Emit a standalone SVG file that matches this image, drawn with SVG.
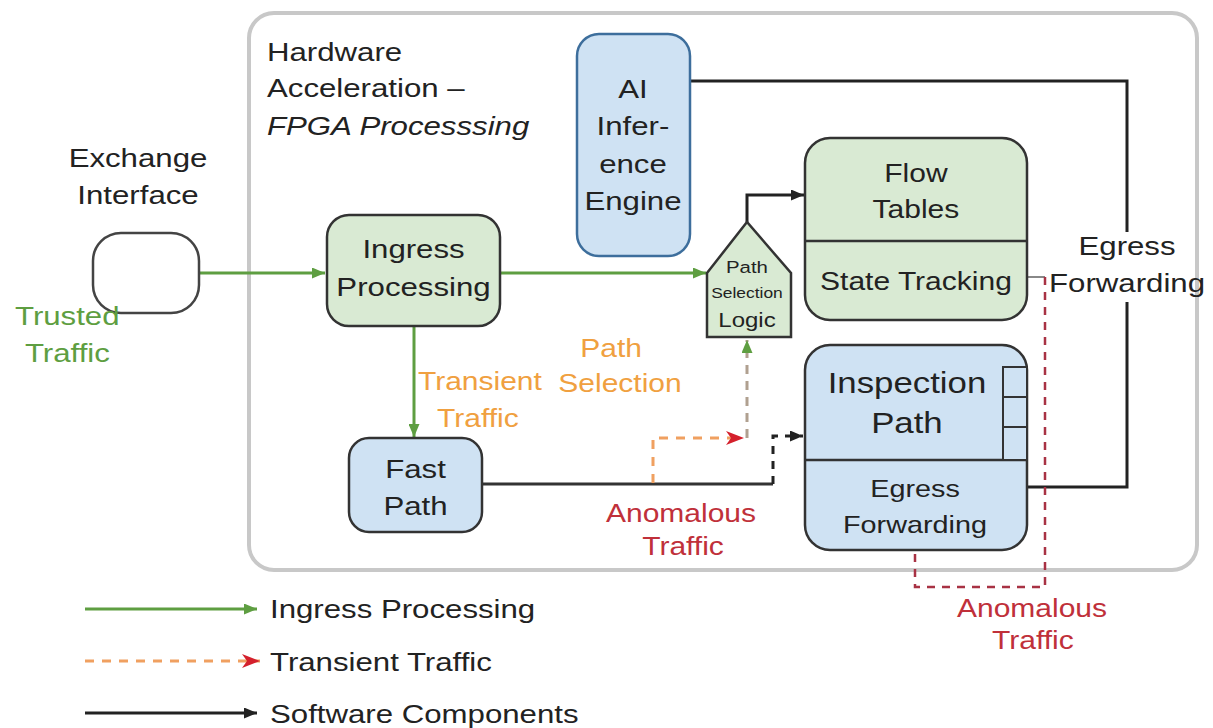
<svg xmlns="http://www.w3.org/2000/svg" width="1213" height="728" viewBox="0 0 1213 728">
<defs>
<style>
.t{font-family:"Liberation Sans",Arial,sans-serif;font-size:26px;fill:#222}
.m{text-anchor:middle}
.box{stroke:#333;stroke-width:2.5}
.g{fill:#d9ead3}
.b{fill:#cfe2f3}
.gl{stroke:#5e9e41;stroke-width:3;fill:none}
.bl{stroke:#222;stroke-width:3;fill:none}
.od{stroke:#f0a060;stroke-width:3;fill:none;stroke-dasharray:9 8}
.rd{stroke:#a83244;stroke-width:2.5;fill:none;stroke-dasharray:8 7}
</style>
<marker id="ag" viewBox="0 0 13 11" refX="13" refY="5.5" markerWidth="13" markerHeight="11" markerUnits="userSpaceOnUse" orient="auto"><path d="M0,0 L13,5.5 L0,11 z" fill="#5e9e41"/></marker>
<marker id="ab" viewBox="0 0 13 11" refX="13" refY="5.5" markerWidth="13" markerHeight="11" markerUnits="userSpaceOnUse" orient="auto"><path d="M0,0 L13,5.5 L0,11 z" fill="#222"/></marker>
<marker id="ar" viewBox="0 0 18 14" refX="18" refY="7" markerWidth="18" markerHeight="14" markerUnits="userSpaceOnUse" orient="auto"><path d="M0,0 L18,7 L0,14 L5,7 z" fill="#d4202c"/></marker>
</defs>
<rect width="1213" height="728" fill="#fff"/>
<g id="container"><rect x="249" y="13" width="948" height="557" rx="25" fill="#fff" stroke="#c8c8c8" stroke-width="4"/></g>

<g id="connectors">
<path class="gl" d="M199,273 H325" marker-end="url(#ag)"/>
<path class="gl" d="M500,273 H706" marker-end="url(#ag)"/>
<path class="gl" d="M414,326 V437" marker-end="url(#ag)"/>
<path class="bl" d="M747,222 V195 H804" marker-end="url(#ab)"/>
<path class="bl" d="M690,81 H1127 V232"/>
<path class="bl" d="M1127,302 V487 H1027"/>
<path d="M482,484 H773" stroke="#333" stroke-width="3" fill="none"/>
<path d="M773,484 V436 H803" stroke="#222" stroke-width="3" fill="none" stroke-dasharray="8 7" marker-end="url(#ab)"/>
<path class="od" d="M653,483 V438 H744" marker-end="url(#ar)"/>
<path d="M747,438 V340" stroke="#b0a090" stroke-width="3" fill="none" stroke-dasharray="9 7" marker-end="url(#ag)"/>
<path d="M1027,277 H1045" stroke="#888" stroke-width="2"/>
<path class="rd" d="M1045,277 V587 H915 V550"/>
</g>

<g id="exchange"><rect x="93" y="233" width="106" height="80" rx="28" fill="#fff" stroke="#444" stroke-width="2.5"/></g>
<g id="ingress"><rect class="box g" x="327" y="215" width="173" height="111" rx="22"/></g>
<g id="ai"><rect x="577" y="34" width="113" height="222" rx="22" fill="#cfe2f3" stroke="#3d6e9c" stroke-width="2.5"/></g>
<g id="pathsel"><polygon class="box g" points="707,273 747,222 791,273 791,337 707,337"/></g>
<g id="flow"><rect class="box g" x="805" y="138" width="222" height="182" rx="25"/><line x1="805" y1="241" x2="1027" y2="241" stroke="#333" stroke-width="2.5"/></g>
<g id="inspection"><rect class="box b" x="805" y="345" width="222" height="205" rx="25"/><line x1="805" y1="460" x2="1027" y2="460" stroke="#333" stroke-width="2.5"/><rect x="1003" y="367" width="24" height="93" fill="#cfe2f3" stroke="#333" stroke-width="2"/><line x1="1003" y1="397" x2="1027" y2="397" stroke="#333" stroke-width="2"/><line x1="1003" y1="427" x2="1027" y2="427" stroke="#333" stroke-width="2"/></g>
<g id="fast"><rect class="box b" x="349" y="438" width="133" height="94" rx="20"/></g>

<g id="legend">
<path class="gl" d="M85,609 H257" marker-end="url(#ag)"/>
<path class="od" d="M85,661 H260" marker-end="url(#ar)"/>
<path class="bl" d="M85,713 H257" marker-end="url(#ab)"/>
</g>

<g id="labels" transform="scale(1.2,1)">
<text class="t" x="222.5" y="61">Hardware</text>
<text class="t" x="222.5" y="97">Acceleration –</text>
<text class="t" x="222.5" y="135" font-style="italic">FPGA Processsing</text>
<text class="t m" x="527.5" y="98">AI</text>
<text class="t m" x="527.5" y="135">Infer-</text>
<text class="t m" x="527.5" y="173">ence</text>
<text class="t m" x="527.5" y="210">Engine</text>
<text class="t m" x="115" y="167">Exchange</text>
<text class="t m" x="115" y="204">Interface</text>
<text class="t" x="12.5" y="325" style="fill:#5e9e41">Trusted</text>
<text class="t" x="20.8" y="362" style="fill:#5e9e41">Traffic</text>
<text class="t m" x="344.6" y="258">Ingress</text>
<text class="t m" x="344.6" y="296">Processing</text>
<text class="t m" x="622.5" y="273" style="font-size:17px">Path</text>
<text class="t m" x="622.5" y="298" style="font-size:14.5px">Selection</text>
<text class="t m" x="622.5" y="327" style="font-size:20px">Logic</text>
<text class="t m" x="763.3" y="182" style="font-size:25px">Flow</text>
<text class="t m" x="763.3" y="218" style="font-size:25px">Tables</text>
<text class="t m" x="763.3" y="290" style="font-size:25px">State Tracking</text>
<text class="t m" x="939.2" y="255">Egress</text>
<text class="t m" x="939.2" y="292">Forwarding</text>
<text class="t" x="348.3" y="390" style="fill:#f0a040;font-size:25px">Transient</text>
<text class="t" x="364.2" y="427" style="fill:#f0a040;font-size:25px">Traffic</text>
<text class="t m" x="509.2" y="357" style="fill:#f0a040;font-size:25px">Path</text>
<text class="t m" x="516.7" y="392" style="fill:#f0a040;font-size:25px">Selection</text>
<text class="t m" x="755.8" y="393" style="font-size:29px">Inspection</text>
<text class="t m" x="755.8" y="433" style="font-size:29px">Path</text>
<text class="t m" x="762.5" y="497" style="font-size:24px">Egress</text>
<text class="t m" x="762.5" y="533" style="font-size:24px">Forwarding</text>
<text class="t m" x="346.25" y="478">Fast</text>
<text class="t m" x="346.25" y="515">Path</text>
<text class="t m" x="567.5" y="522" style="fill:#c0303a;font-size:25px">Anomalous</text>
<text class="t m" x="569.2" y="555" style="fill:#c0303a;font-size:25px">Traffic</text>
<text class="t m" x="860" y="617" style="fill:#c0303a;font-size:25px">Anomalous</text>
<text class="t m" x="860.8" y="649" style="fill:#c0303a;font-size:25px">Traffic</text>
<text class="t" x="225" y="618">Ingress Processing</text>
<text class="t" x="225" y="671">Transient Traffic</text>
<text class="t" x="225" y="723">Software Components</text>
</g>
</svg>
